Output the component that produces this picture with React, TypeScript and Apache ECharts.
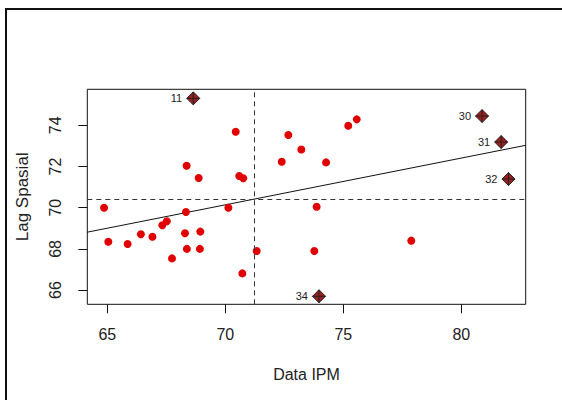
import React, { useEffect, useRef } from "react";
import * as echarts from "echarts";

// Data IPM (x) and Lag Spasial (y) for ordinary points
const ipm = [64.86, 65.04, 65.86, 66.42, 66.91, 67.33, 67.52, 67.74, 68.29, 68.33, 68.37, 68.36, 68.87, 68.92, 68.94, 70.13, 70.44, 70.59, 70.76, 70.72, 71.33, 72.39, 72.67, 73.22, 73.77, 73.87, 74.27, 75.21, 75.57, 77.88];
const lag = [70.0, 68.35, 68.24, 68.71, 68.59, 69.15, 69.34, 67.54, 68.76, 69.79, 68.0, 72.04, 71.44, 68.0, 68.84, 70.0, 73.69, 71.54, 71.43, 66.81, 67.9, 72.23, 73.53, 72.83, 67.9, 70.05, 72.2, 73.98, 74.29, 68.4];

// Influential observations
const inflLabels = ["11", "30", "31", "32", "34"];
const inflIpm = [68.64, 80.88, 81.69, 82.0, 73.97];
const inflLag = [75.31, 74.45, 73.19, 71.39, 65.7];

// Means (dashed lines) and regression line coefficients
const meanIpm = 71.22;
const meanLag = 70.42;
const regSlope = 0.227;
const regIntercept = 54.25;

// Axis ranges and ticks
const xRange = [64.15, 82.73];
const yRange = [65.31, 75.75];
const xTicks = [65, 70, 75, 80];
const yTicks = [66, 68, 70, 72, 74];

const FONT = "'Liberation Sans', Arial, sans-serif";

export default function App() {
  const ref = useRef<HTMLDivElement>(null);
  useEffect(() => {
    document.body.style.margin = "0";
    const chart = echarts.init(ref.current!, null, { renderer: "svg" });
    const points = ipm.map((x, i) => [x, lag[i]]);
    const infl = inflIpm.map((x, i) => ({ name: inflLabels[i], value: [x, inflLag[i]] }));
    const regLine = [
      [xRange[0], regIntercept + regSlope * xRange[0]],
      [xRange[1], regIntercept + regSlope * xRange[1]],
    ];
    chart.setOption({
      animation: false,
      backgroundColor: "#ffffff",
      textStyle: { fontFamily: FONT },
      graphic: [
        {
          type: "rect",
          shape: { x: 6, y: 9, width: 700, height: 500 },
          style: { fill: "none", stroke: "#111", lineWidth: 2 },
          silent: true,
        },
      ],
      grid: {
        left: 87.3,
        right: 36.3,
        top: 89.3,
        bottom: 95.7,
        show: true,
        borderColor: "#111",
        borderWidth: 1,
        backgroundColor: "transparent",
      },
      xAxis: {
        type: "value",
        min: xRange[0],
        max: xRange[1],
        name: "Data IPM",
        nameLocation: "middle",
        nameGap: 62,
        nameTextStyle: { fontSize: 16, color: "#222", fontFamily: FONT },
        axisLine: { show: false },
        splitLine: { show: false },
        axisTick: {
          show: true,
          inside: false,
          length: 9,
          customValues: xTicks,
          lineStyle: { color: "#111", width: 1 },
        },
        axisLabel: {
          customValues: xTicks,
          fontSize: 16,
          color: "#222",
          margin: 22,
          fontFamily: FONT,
        },
      },
      yAxis: {
        type: "value",
        min: yRange[0],
        max: yRange[1],
        name: "Lag Spasial",
        nameLocation: "middle",
        nameGap: 56,
        nameTextStyle: { fontSize: 17, color: "#222", fontFamily: FONT },
        axisLine: { show: false },
        splitLine: { show: false },
        axisTick: {
          show: true,
          inside: false,
          length: 9,
          customValues: yTicks,
          lineStyle: { color: "#111", width: 1 },
        },
        axisLabel: {
          customValues: yTicks,
          rotate: 90,
          fontSize: 16,
          color: "#222",
          margin: 24,
          fontFamily: FONT,
        },
      },
      series: [
        {
          type: "line",
          data: regLine,
          symbol: "none",
          lineStyle: { color: "#111", width: 1 },
          silent: true,
          z: 2,
          markLine: {
            silent: true,
            symbol: "none",
            label: { show: false },
            lineStyle: { color: "#333", type: [5, 4], width: 1 },
            data: [{ xAxis: meanIpm }, { yAxis: meanLag }],
          },
        },
        {
          type: "scatter",
          data: points,
          symbol: "circle",
          symbolSize: 8,
          itemStyle: { color: "#e00000", opacity: 1 },
          z: 3,
        },
        {
          type: "scatter",
          data: infl,
          symbol: "diamond",
          symbolSize: [13, 13],
          itemStyle: { color: "#9c1e1e", borderColor: "#222", borderWidth: 1, opacity: 1 },
          label: {
            show: true,
            position: "left",
            distance: 4,
            formatter: "{b}",
            fontSize: 11,
            color: "#222",
            fontFamily: FONT,
          },
          z: 4,
        },
        {
          type: "scatter",
          data: infl,
          symbol: "path://M0,-10L0,10M-10,0L10,0",
          symbolSize: [13, 13],
          itemStyle: { color: "none", borderColor: "#222", borderWidth: 1, opacity: 1 },
          z: 5,
        },
      ],
    });
    return () => chart.dispose();
  }, []);
  return <div ref={ref} style={{ width: 562, height: 400 }} />;
}
